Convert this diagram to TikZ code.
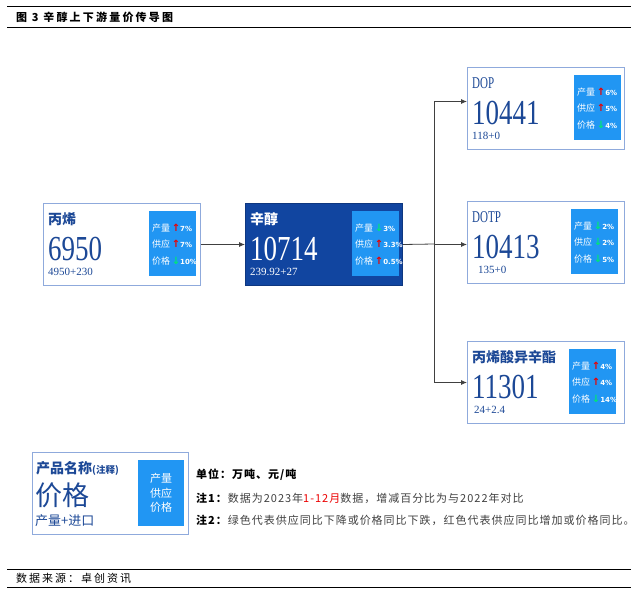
\documentclass[tikz,border=0pt]{standalone}
\usepackage{fontspec}
\setmainfont{Liberation Serif}
\newfontfamily\cjk{Noto Sans CJK SC}
\newfontfamily\symf{DejaVu Sans}
\usepackage{tikz}
\usetikzlibrary{arrows.meta}

\definecolor{rimblue}{RGB}{143,170,220}
\definecolor{deepblue}{RGB}{17,69,160}
\definecolor{skyblue}{RGB}{33,150,243}
\definecolor{inkblue}{RGB}{28,72,150}
\definecolor{upred}{RGB}{235,0,0}
\definecolor{dngreen}{RGB}{0,230,118}
\definecolor{notegray}{RGB}{64,64,64}

\def\up#1{{\symf\bfseries\fontsize{10}{10}\selectfont\textcolor{upred}{↑}}{\symf\bfseries\fontsize{7}{7}\selectfont #1}}
\def\dn#1{{\symf\bfseries\fontsize{10}{10}\selectfont\textcolor{dngreen}{↓}}{\symf\bfseries\fontsize{7}{7}\selectfont #1}}
\def\lat#1{{\fontsize{11}{11}\selectfont\scalebox{1}[1.5]{#1}}}

\tikzset{
  card/.style={draw=rimblue, line width=1pt, anchor=north west, minimum width=157pt, minimum height=82pt, inner sep=0pt},
  tag/.style={fill=skyblue, anchor=north west, minimum width=47pt, minimum height=65pt, inner sep=0pt},
  lbl/.style={anchor=west, inner sep=0pt},
  link/.style={draw=black!75, line width=0.8pt, -{Latex[length=6pt,width=5pt]}},
  rule/.style={line width=1pt}
}

\begin{document}
\begin{tikzpicture}[x=1pt,y=-1pt]
\useasboundingbox (0,0) rectangle (639,596);
% heading
\draw[rule] (7,7) -- (631,7);
\draw[rule] (7,28) -- (631,28);
\node[lbl, font=\cjk\bfseries\fontsize{11}{11}\selectfont\addfontfeature{LetterSpace=20}] (head) at (16,17) {图 3 辛醇上下游量价传导图};

% product cards
\foreach \n/\x/\y/\tgx/\ttl/\pr/\sub/\sx/\bg/\bd/\fg/\va/\vb/\vc in {
  1/43/203/106/{\cjk\bfseries 丙烯}/6950/4950+230/5/white/rimblue/inkblue/\up{7\%}/\up{7\%}/\dn{10\%},
  2/245/203/107/{\cjk\bfseries 辛醇}/10714/239.92+27/5/deepblue/deepblue!80!black/white/\dn{3\%}/\up{3.3\%}/\up{0.5\%},
  3/467/67/107/{\lat{DOP}}/10441/118+0/5/white/rimblue/inkblue/\up{6\%}/\up{5\%}/\dn{4\%},
  4/467/201/104/{\lat{DOTP}}/10413/135+0/11/white/rimblue/inkblue/\dn{2\%}/\dn{2\%}/\dn{5\%},
  5/467/341/102/{\cjk\bfseries 丙烯酸异辛酯}/11301/24+2.4/7/white/rimblue/inkblue/\up{4\%}/\up{4\%}/\dn{14\%}} {
  \node[card, fill=\bg, draw=\bd] (c\n) at (\x,\y) {};
  \node[tag] (t\n) at (\x+\tgx,\y+8) {};
  \node[lbl, text=\fg, font=\fontsize{14}{14}\selectfont] (ttl\n) at (\x+5,\y+16) {\ttl};
  \node[lbl, text=\fg, font=\fontsize{27}{27}\selectfont] (pr\n) at (\x+5,\y+46) {\scalebox{1}[1.3]{\pr}};
  \node[lbl, text=\fg, font=\fontsize{11}{11}\selectfont] (sub\n) at (\x+\sx,\y+69) {\sub};
  \foreach \k/\w/\v in {0/产量/\va,1/供应/\vb,2/价格/\vc} {
    \node[lbl, text=white] (r\n_\k) at (\x+\tgx+3,{\y+25+16.5*\k}) {{\cjk\fontsize{9}{9}\selectfont \w}\,\v};
  }
}

% connectors
\coordinate (j) at (434,244);
\draw[link] (c1.east) -- (c2.west);
\draw[draw=black!75, line width=0.8pt] (c2.east) -- (j);
\draw[link] (j) |- ([yshift=7pt]c3.west);
\draw[link] (j) |- ([yshift=-2pt]c4.west);
\draw[link] (j) |- (c5.west);

% legend
\node[card, minimum width=156pt] (key) at (32,452) {};
\node[tag, minimum width=46pt, minimum height=66pt] (keytag) at (138,460) {};
\node[font=\cjk\fontsize{11}{14.5}\selectfont, text=white, align=center] (keyrows) at (keytag) {产量\\供应\\价格};
\node[lbl, text=inkblue] (keyname) at (36,468) {{\cjk\bfseries\fontsize{14}{14}\selectfont 产品名称}{\cjk\bfseries\fontsize{9.5}{9.5}\selectfont (注释)}};
\node[lbl, text=inkblue, font=\cjk\fontsize{27}{27}\selectfont] (keyprice) at (35,495) {价格};
\node[lbl, text=inkblue, font=\cjk\fontsize{13}{13}\selectfont] (keysub) at (35,521) {产量+进口};

% notes
\node[lbl, font=\cjk\fontsize{11}{11}\selectfont\addfontfeature{LetterSpace=9}] (unit) at (196,475) {\textbf{单位：万吨、元/吨}};
\node[lbl, font=\cjk\fontsize{11}{11}\selectfont\addfontfeature{LetterSpace=9}, text=notegray] (note1) at (196,498) {\textcolor{black}{\textbf{注1：}}数据为2023年\textcolor{upred}{1-12月}数据，增减百分比为与2022年对比};
\node[lbl, font=\cjk\fontsize{11}{11}\selectfont\addfontfeature{LetterSpace=9}, text=notegray] (note2) at (196,520) {\textcolor{black}{\textbf{注2：}}绿色代表供应同比下降或价格同比下跌，红色代表供应同比增加或价格同比。};

% source
\draw[rule] (7,569) -- (631,569);
\draw[rule] (7,587) -- (631,587);
\node[lbl, font=\cjk\fontsize{11}{11}\selectfont\addfontfeature{LetterSpace=18}] (src) at (16,578) {数据来源：卓创资讯};
\end{tikzpicture}
\end{document}
